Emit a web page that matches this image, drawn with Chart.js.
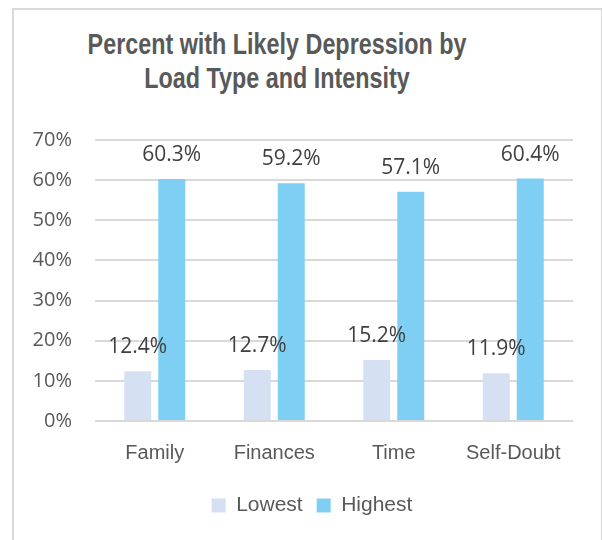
<!DOCTYPE html>
<html>
<head>
<meta charset="utf-8">
<script src="https://cdn.jsdelivr.net/npm/chart.js@4.4.0/dist/chart.umd.min.js"></script>
<style>
  html, body { margin: 0; padding: 0; background: #fff; }
  #wrap { position: relative; width: 602px; height: 540px; overflow: hidden; }
  #frame {
    position: absolute; left: 12px; top: 8px; width: 587px; height: 560px;
    border: 2px solid #d9d9d9;
  }
  #title {
    position: absolute; left: 27px; width: 500px; top: 26.5px;
    font-family: "Liberation Sans", Arial, sans-serif;
    font-weight: bold; font-size: 29px; line-height: 34px; color: #595959;
    text-align: center; white-space: nowrap;
    transform: scaleX(0.805); transform-origin: 50% 50%;
  }
  canvas { position: absolute; left: 0; top: 0; }
</style>
</head>
<body>
<div id="wrap">
  <div id="frame"></div>
  <div id="title">Percent with Likely Depression by<br>Load Type and Intensity</div>
  <canvas id="myChart" width="602" height="540"></canvas>
</div>
<script>
  const categories = ['Family', 'Finances', 'Time', 'Self-Doubt'];
  const lowest = [12.4, 12.7, 15.2, 11.9];
  const highest = [60.3, 59.2, 57.1, 60.4];
  const yTicks = [0, 10, 20, 30, 40, 50, 60, 70];

  const sans = '"Liberation Sans", Arial, sans-serif';
  const body = '"Open Sans", "Noto Sans", sans-serif';

  // value labels sitting above every bar
  const barValues = {
    id: 'barValues',
    afterDatasetsDraw(chart) {
      const ctx = chart.ctx;
      ctx.save();
      ctx.font = '21px ' + body;
      ctx.fillStyle = '#404040';
      ctx.textAlign = 'center';
      ctx.textBaseline = 'middle';
      chart.data.datasets.forEach(function (ds, i) {
        chart.getDatasetMeta(i).data.forEach(function (bar, j) {
          ctx.fillText(ds.data[j].toFixed(1) + '%', bar.x, bar.y - 24);
        });
      });
      ctx.restore();
    }
  };

  // legend row is centred a bit right of the canvas middle
  const legendShift = {
    id: 'legendShift',
    afterLayout(chart) {
      const lg = chart.legend;
      if (!lg) return;
      lg.left = 51;
      lg.width = lg.right - lg.left;
    }
  };

  new Chart(document.getElementById('myChart'), {
    type: 'bar',
    data: {
      labels: categories,
      datasets: [
        { label: 'Lowest', data: lowest, backgroundColor: '#d5e1f2' },
        { label: 'Highest', data: highest, backgroundColor: '#7ecff3' }
      ]
    },
    options: {
      responsive: false,
      animation: false,
      layout: { padding: { left: 0, right: 29, top: 140, bottom: 14 } },
      datasets: { bar: { barPercentage: 0.794, categoryPercentage: 0.569 } },
      scales: {
        x: {
          afterFit(scale) { scale.height = 60; },
          grid: { display: false, drawTicks: false },
          border: { display: false },
          ticks: { color: '#595959', font: { family: sans, size: 20 }, padding: 20 }
        },
        y: {
          min: 0,
          max: 70,
          afterFit(scale) { scale.width = 95; },
          afterBuildTicks(scale) { scale.ticks = yTicks.map(v => ({ value: v })); },
          border: { display: false },
          grid: { color: '#d9d9d9', lineWidth: 2, drawTicks: false },
          ticks: {
            color: '#595959',
            font: { family: body, size: 20 },
            padding: 23,
            callback: v => v + '%'
          }
        }
      },
      plugins: {
        title: { display: false },
        tooltip: { enabled: false },
        legend: {
          position: 'bottom',
          labels: {
            color: '#595959',
            font: { family: sans, size: 21 },
            boxWidth: 14,
            boxHeight: 14,
            padding: 14
          }
        }
      }
    },
    plugins: [barValues, legendShift]
  });
</script>
</body>
</html>
